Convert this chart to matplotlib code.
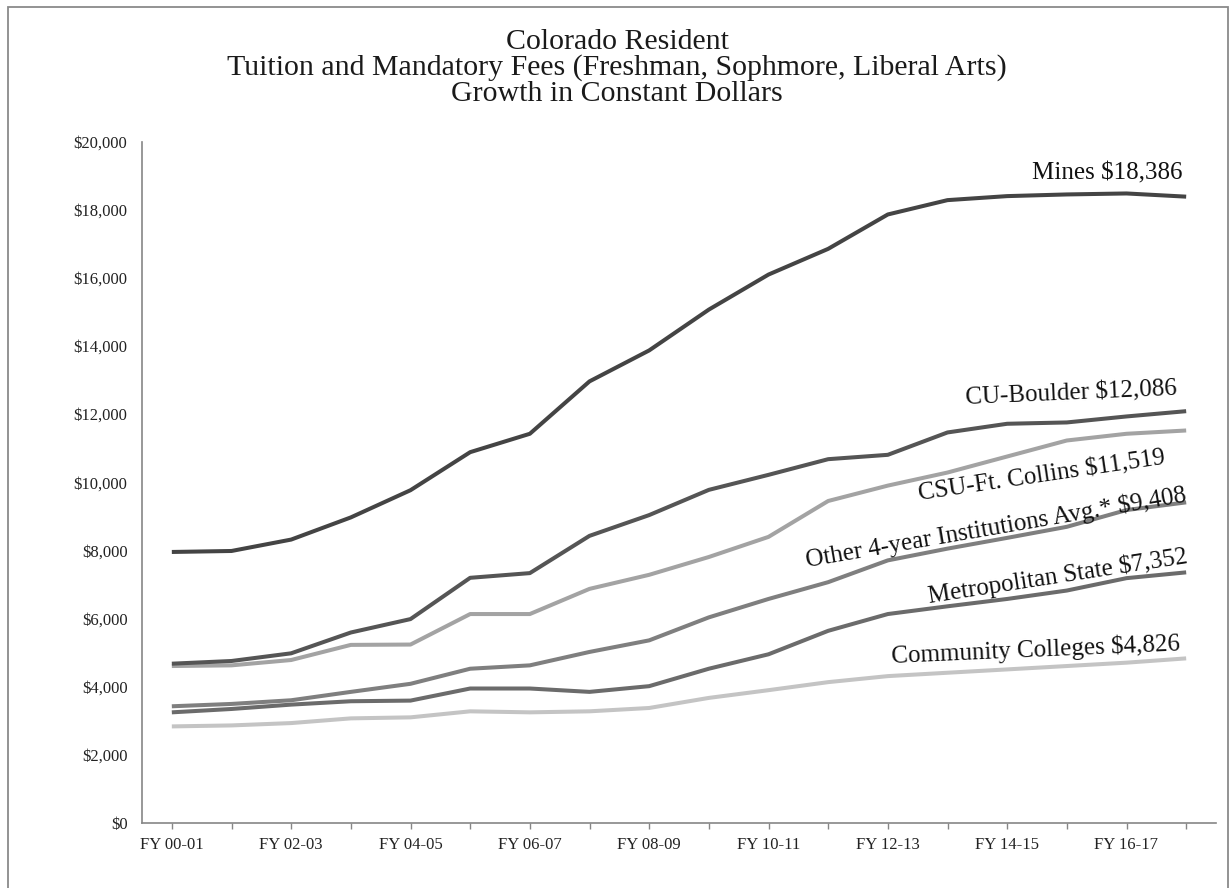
import matplotlib
matplotlib.use("Agg")
import matplotlib.pyplot as plt
from matplotlib.patches import Rectangle
from matplotlib.ticker import FuncFormatter, MultipleLocator

plt.rcParams['font.family'] = ['Liberation Serif', 'DejaVu Serif']

years = ["FY 00-01", "FY 01-02", "FY 02-03", "FY 03-04", "FY 04-05", "FY 05-06",
         "FY 06-07", "FY 07-08", "FY 08-09", "FY 09-10", "FY 10-11", "FY 11-12",
         "FY 12-13", "FY 13-14", "FY 14-15", "FY 15-16", "FY 16-17", "FY 17-18"]

mines = [7951, 7980, 8315, 8966, 9765, 10882, 11422, 12961, 13870, 15069, 16098,
         16853, 17863, 18284, 18402, 18451, 18480, 18386]
cu_boulder = [4670, 4749, 4975, 5586, 5980, 7192, 7330, 8424, 9034, 9775, 10216,
              10676, 10804, 11461, 11716, 11755, 11931, 12086]
csu = [4601, 4621, 4778, 5222, 5232, 6128, 6128, 6867, 7280, 7803, 8394, 9448,
       9900, 10284, 10755, 11225, 11422, 11519]
other4 = [3419, 3488, 3596, 3842, 4079, 4522, 4621, 5015, 5355, 6030, 6571, 7064,
          7704, 8049, 8365, 8690, 9182, 9408]
metro = [3241, 3340, 3468, 3567, 3586, 3941, 3941, 3842, 4010, 4522, 4946, 5635,
         6128, 6355, 6571, 6818, 7182, 7352]
cc = [2828, 2857, 2926, 3064, 3094, 3271, 3241, 3271, 3369, 3665, 3892, 4128,
      4305, 4404, 4502, 4601, 4700, 4826]

series = [
    ("Community Colleges $4,826", cc, "#c4c4c4"),
    ("Metropolitan State $7,352", metro, "#6b6b6b"),
    ("Other 4-year Institutions Avg.* $9,408", other4, "#7f7f7f"),
    ("CSU-Ft. Collins $11,519", csu, "#a3a3a3"),
    ("CU-Boulder $12,086", cu_boulder, "#555555"),
    ("Mines $18,386", mines, "#444444"),
]

W, H = 1231, 888
fig = plt.figure(figsize=(W / 100, H / 100), dpi=100)
ax = fig.add_axes([142 / W, 1 - 822.7 / H, (1216 - 142) / W, (822.7 - 141.7) / H])

x = list(range(len(years)))
for name, vals, col in series:
    ax.plot(x, vals, color=col, lw=2.9, solid_joinstyle='round', solid_capstyle='butt')

ax.set_xlim(-0.5, len(years) - 0.5)
ax.set_ylim(0, 20000)
ax.yaxis.set_major_locator(MultipleLocator(2000))
ax.yaxis.set_major_formatter(FuncFormatter(lambda v, p: "${:,.0f}".format(v)))
ax.set_xticks(x)
ax.set_xticklabels([y if i % 2 == 0 else "" for i, y in enumerate(years)])

for s in ["top", "right"]:
    ax.spines[s].set_visible(False)
for s in ["left", "bottom"]:
    ax.spines[s].set_color("#868686")
    ax.spines[s].set_linewidth(1.2)
ax.tick_params(axis='y', length=0, pad=10.5, labelsize=12, labelcolor="#222222")
ax.tick_params(axis='x', length=4.5, width=1, color="#868686", pad=6,
               labelsize=12, labelcolor="#222222")

# title (one multi-line text)
title_lines = ["Colorado Resident",
               "Tuition and Mandatory Fees (Freshman, Sophmore, Liberal Arts)",
               "Growth in Constant Dollars"]
fig.text(617 / W, 1 - 68 / H, "\n".join(title_lines), ha='center', va='center',
         ma='center', fontsize=21.5, linespacing=1.0, color="#1a1a1a")

# series labels: left/baseline anchor in figure pixels, rotation in degrees
label_pos = {
    "Mines $18,386": (1032, 179, 0),
    "CU-Boulder $12,086": (966, 404, 2.5),
    "CSU-Ft. Collins $11,519": (919, 500, 8.4),
    "Other 4-year Institutions Avg.* $9,408": (807, 567, 9.8),
    "Metropolitan State $7,352": (929, 603, 8.8),
    "Community Colleges $4,826": (892, 663, 2.5),
}
for name, vals, col in series:
    px, py, rot = label_pos[name]
    fig.text(px / W, 1 - py / H, name, ha='left', va='baseline', rotation=rot,
             rotation_mode='anchor', fontsize=18, color="#111111")

# outer frame
fig.patches.append(Rectangle((8 / W, -0.05), (1228 - 8) / W, (888 - 7) / H + 0.05,
                             transform=fig.transFigure, fill=False,
                             edgecolor="#8a8a8a", lw=1.3))

fig.savefig("out.png", dpi=100, facecolor="white")
